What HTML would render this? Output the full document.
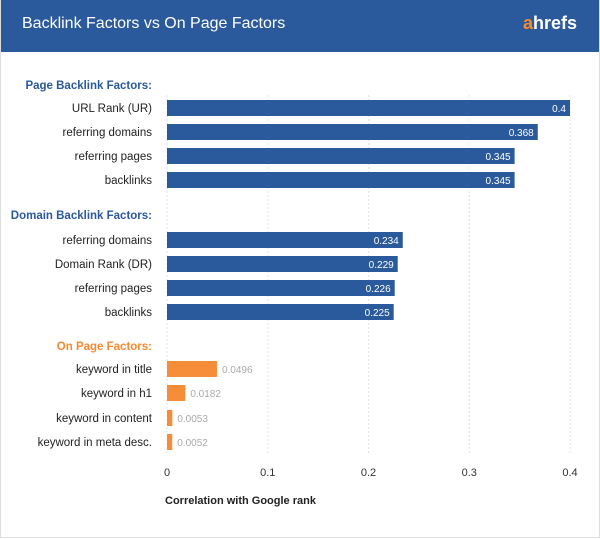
<!DOCTYPE html>
<html><head><meta charset="utf-8"><style>
body{margin:0;background:#fff;font-family:"Liberation Sans",sans-serif}
#wrap{position:relative;width:598px;height:537px;border:1px solid #ddd;border-top:none;overflow:hidden}
#hdr{position:absolute;left:0;top:0;width:598px;height:52px;background:#2a5a9c}
</style></head><body>
<div id="wrap">
<div id="hdr">
<div style="position:absolute;left:21px;top:15px;color:#fff;font-size:16px">Backlink Factors vs On Page Factors</div>
<div style="position:absolute;right:22px;top:13px;color:#fff;font-size:18px;font-weight:bold"><span style="color:#f68a2e">a</span>hrefs</div>
</div>
<svg id="c" width="598" height="537" style="position:absolute;left:0;top:0"></svg>
</div>
<script>
const categories=["URL Rank (UR)","referring domains","referring pages","backlinks","referring domains","Domain Rank (DR)","referring pages","backlinks","keyword in title","keyword in h1","keyword in content","keyword in meta desc."];
const values=[0.4,0.368,0.345,0.345,0.234,0.229,0.226,0.225,0.0496,0.0182,0.0053,0.0052];
const valueLabels=["0.4","0.368","0.345","0.345","0.234","0.229","0.226","0.225","0.0496","0.0182","0.0053","0.0052"];
const groups=[0,0,0,0,1,1,1,1,2,2,2,2];
const groupNames=["Page Backlink Factors:","Domain Backlink Factors:","On Page Factors:"];
const ticks=[0,0.1,0.2,0.3,0.4];
const tickLabels=["0","0.1","0.2","0.3","0.4"];
const svg=document.getElementById('c');const NS="http://www.w3.org/2000/svg";
function x(v){return 166+v*1007.5}
const rowY=[108,132,156,180,240,264,288,312,369,393,418,442];
const groupY=[85,215,346];
function mk(t,a,txt){const e=document.createElementNS(NS,t);for(const k in a)e.setAttribute(k,a[k]);if(txt!==undefined)e.textContent=txt;svg.appendChild(e);return e}
ticks.forEach((t,i)=>{
 const g=mk('line',{x1:x(t),x2:x(t),y1:95,y2:455,stroke:'#e2e2e2','stroke-dasharray':'2,2'});
 
 
 const l=mk('text',{x:x(t),y:476,'font-size':11,fill:'#333','text-anchor':'middle'},tickLabels[i]);
 
 
});
groupNames.forEach((n,i)=>{
 const e=mk('text',{x:151,y:groupY[i]+4,'font-size':11.5,'font-weight':'bold',fill:i==2?'#f68a2e':'#2a5a9c','text-anchor':'end'},n);
 
 
});
values.forEach((v,i)=>{
 const y=rowY[i];const orange=groups[i]==2;
 const l=mk('text',{x:151,y:y+4,'font-size':11.5,fill:'#222','text-anchor':'end'},categories[i]);
 
 
 const w=Math.max(x(v)-x(0),4);
 const b=mk('rect',{x:x(0),y:y-8,width:w,height:16,fill:orange?'#f68d39':'#2a5a9c'});
 
 
 const t=orange?mk('text',{x:x(0)+w+5,y:y+4,'font-size':10,fill:'#aaa'},valueLabels[i]):mk('text',{x:x(0)+w-4,y:y+4,'font-size':10,fill:'#fff','text-anchor':'end'},valueLabels[i]);
 
 
});
const at=mk('text',{x:164,y:504,'font-size':11,'font-weight':'bold',fill:'#222'},'Correlation with Google rank');


</script>
</body></html>
